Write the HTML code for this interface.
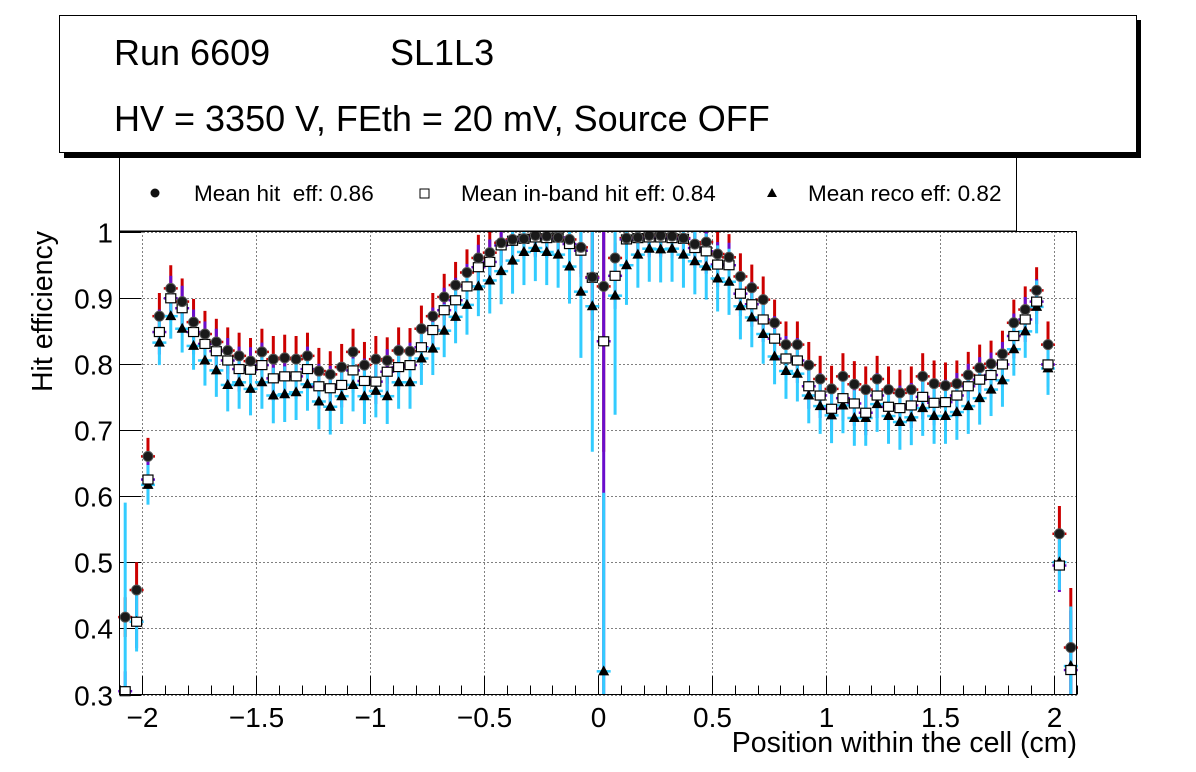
<!DOCTYPE html>
<html><head><meta charset="utf-8">
<style>
html,body{margin:0;padding:0;background:#fff;}
svg{display:block;font-family:"Liberation Sans",Arial,sans-serif;}
</style></head>
<body>
<svg id="chart" width="1196" height="772" viewBox="0 0 1196 772" xmlns="http://www.w3.org/2000/svg">
  <rect x="0" y="0" width="1196" height="772" fill="#fff"/>
  <g id="grid"></g>
  <g id="axes"></g>
  <g id="errs"></g>
  <g id="marks"></g>
  <rect x="119.5" y="231.5" width="957" height="463" fill="none" stroke="#000" stroke-width="1"/>
  <text x="1077" y="752" font-size="28.5" text-anchor="end">Position within the cell (cm)</text>
  <text transform="translate(52,231) rotate(-90)" font-size="28.5" text-anchor="end">Hit efficiency</text>
  <g>
    <rect x="119.5" y="150" width="897" height="81" fill="#fff" stroke="#000" stroke-width="1"/>
    <circle cx="155" cy="193" r="4.5" fill="#111"/>
    <text x="194" y="201" font-size="22.5" xml:space="preserve">Mean hit  eff: 0.86</text>
    <rect x="420" y="189" width="9" height="9" fill="#fff" stroke="#000" stroke-width="1"/>
    <text x="461" y="201" font-size="22.5">Mean in-band hit eff: 0.84</text>
    <polygon points="772,188 777,197 767,197" fill="#000"/>
    <text x="808" y="201" font-size="22.5">Mean reco eff: 0.82</text>
  </g>
  <g>
    <rect x="64" y="20" width="1077" height="138" fill="#000"/>
    <rect x="59.5" y="15.5" width="1077" height="137" fill="#fff" stroke="#000" stroke-width="1"/>
    <text x="114" y="65" font-size="36">Run 6609</text>
    <text x="390" y="65" font-size="36">SL1L3</text>
    <text x="114" y="131" font-size="36">HV = 3350 V, FEth = 20 mV, Source OFF</text>
  </g>
</svg>
<script>
const xStart = -2.075;
const binWidth = 0.05;
const hitEff = [0.417,0.458,0.660,0.872,0.914,0.894,0.863,0.845,0.833,0.820,0.812,0.804,0.818,0.807,0.809,0.807,0.812,0.789,0.784,0.795,0.818,0.798,0.807,0.805,0.820,0.819,0.853,0.872,0.901,0.919,0.938,0.960,0.968,0.983,0.988,0.989,0.994,0.993,0.991,0.988,0.976,0.931,0.917,0.960,0.990,0.991,0.994,0.994,0.993,0.990,0.981,0.984,0.966,0.961,0.932,0.915,0.897,0.862,0.829,0.829,0.798,0.777,0.762,0.781,0.769,0.761,0.777,0.761,0.756,0.761,0.781,0.770,0.767,0.770,0.783,0.794,0.800,0.815,0.862,0.882,0.911,0.829,0.543,0.371];
const inbandEff = [0.305,0.410,0.625,0.848,0.899,0.884,0.848,0.830,0.819,0.805,0.792,0.791,0.798,0.778,0.781,0.781,0.792,0.766,0.763,0.768,0.790,0.774,0.773,0.788,0.795,0.798,0.825,0.851,0.881,0.896,0.917,0.946,0.954,0.979,0.986,0.989,0.991,0.990,0.991,0.981,0.971,0.930,0.834,0.933,0.988,0.990,0.991,0.991,0.990,0.989,0.975,0.970,0.950,0.949,0.906,0.890,0.867,0.838,0.808,0.805,0.766,0.752,0.732,0.748,0.740,0.726,0.752,0.735,0.733,0.737,0.750,0.741,0.742,0.752,0.766,0.776,0.783,0.799,0.842,0.867,0.894,0.799,0.495,0.337];
const recoEff = [0.280,0.410,0.617,0.832,0.872,0.853,0.827,0.805,0.790,0.768,0.772,0.762,0.772,0.752,0.754,0.757,0.769,0.743,0.735,0.751,0.768,0.751,0.759,0.751,0.772,0.772,0.808,0.823,0.850,0.871,0.889,0.917,0.926,0.940,0.956,0.969,0.975,0.969,0.965,0.947,0.909,0.887,0.335,0.903,0.949,0.965,0.974,0.973,0.974,0.965,0.955,0.947,0.929,0.924,0.887,0.870,0.845,0.811,0.789,0.785,0.752,0.736,0.722,0.737,0.718,0.718,0.739,0.721,0.712,0.719,0.733,0.721,0.721,0.727,0.736,0.748,0.761,0.775,0.822,0.849,0.886,0.793,0.500,0.343];
const hitErr = [0.03,0.042,0.028,0.035,0.035,0.035,0.035,0.035,0.035,0.035,0.035,0.035,0.035,0.035,0.035,0.035,0.035,0.035,0.035,0.035,0.035,0.035,0.035,0.035,0.035,0.035,0.035,0.035,0.035,0.035,0.035,0.035,0.035,0.03,0.03,0.03,0.03,0.03,0.03,0.03,0.04,0.08,0.25,0.05,0.03,0.03,0.03,0.03,0.03,0.03,0.03,0.035,0.035,0.035,0.035,0.035,0.035,0.035,0.035,0.035,0.035,0.035,0.035,0.035,0.035,0.035,0.035,0.035,0.035,0.035,0.035,0.035,0.035,0.035,0.035,0.035,0.035,0.035,0.035,0.035,0.035,0.035,0.042,0.09];
const inbandErr = [0.03,0.04,0.03,0.034,0.034,0.034,0.034,0.034,0.034,0.034,0.034,0.034,0.034,0.034,0.034,0.034,0.034,0.034,0.034,0.034,0.034,0.034,0.034,0.034,0.034,0.034,0.034,0.034,0.034,0.034,0.034,0.034,0.034,0.03,0.03,0.03,0.03,0.03,0.03,0.03,0.04,0.08,0.6,0.05,0.03,0.03,0.03,0.03,0.03,0.03,0.03,0.034,0.034,0.034,0.034,0.034,0.034,0.034,0.034,0.034,0.034,0.034,0.034,0.034,0.034,0.034,0.034,0.034,0.034,0.034,0.034,0.034,0.034,0.034,0.034,0.034,0.034,0.034,0.034,0.034,0.034,0.034,0.04,0.09];
const recoErr = [0.31,0.045,0.03,0.034,0.034,0.036,0.036,0.038,0.04,0.04,0.04,0.04,0.04,0.042,0.042,0.042,0.04,0.042,0.042,0.042,0.04,0.042,0.04,0.042,0.04,0.04,0.04,0.04,0.04,0.04,0.045,0.045,0.05,0.05,0.05,0.05,0.05,0.05,0.05,0.056,0.1,0.22,0.27,0.18,0.06,0.05,0.05,0.05,0.05,0.05,0.05,0.05,0.05,0.05,0.05,0.045,0.045,0.042,0.042,0.042,0.042,0.042,0.042,0.042,0.042,0.042,0.042,0.042,0.042,0.042,0.042,0.042,0.042,0.042,0.042,0.04,0.04,0.04,0.04,0.04,0.04,0.04,0.042,0.09];
const xTicks = [-2,-1.5,-1,-0.5,0,0.5,1,1.5,2];
const xTickLabels = ["\u22122","\u22121.5","\u22121","\u22120.5","0","0.5","1","1.5","2"];
const yTicks = [0.3,0.4,0.5,0.6,0.7,0.8,0.9,1.0];
const yTickLabels = ["0.3","0.4","0.5","0.6","0.7","0.8","0.9","1"];

const NS = "http://www.w3.org/2000/svg";
const X0 = 119.5, X1 = 1076.5, Y0 = 694.5, Y1 = 231.5;
const xMin = -2.1, xMax = 2.1, yMin = 0.3, yMax = 1.0;
function xs(v){ return X0 + (v - xMin) / (xMax - xMin) * (X1 - X0); }
function ys(v){ return Y0 - (v - yMin) / (yMax - yMin) * (Y0 - Y1); }
function clampY(y){ return Math.max(Y1, Math.min(Y0, y)); }
function mk(tag, attrs, parent){ const e = document.createElementNS(NS, tag); for (const k in attrs) e.setAttribute(k, attrs[k]); parent.appendChild(e); return e; }

const grid = document.getElementById('grid');
const axes = document.getElementById('axes');
const errs = document.getElementById('errs');
const marks = document.getElementById('marks');

xTicks.forEach((t, i) => {
  const x = Math.round(xs(t)) + 0.5;
  const g = mk('line', {x1:x, x2:x, y1:Y1, y2:Y0, stroke:'#000', 'stroke-width':1, 'stroke-dasharray':'1,3'}, grid);
  
  
  const tk = mk('line', {x1:x, x2:x, y1:Y0, y2:Y0 - 18, stroke:'#000', 'stroke-width':1}, axes);
  
  
  const lb = mk('text', {x:x, y:727, 'font-size':28, 'text-anchor':'middle'}, axes);
  lb.textContent = xTickLabels[i];
  
  
});
for (let k = -21; k <= 21; k++) {
  const v = k / 10;
  const x = Math.round(xs(v)) + 0.5;
  const tk = mk('line', {x1:x, x2:x, y1:Y0, y2:Y0 - 9, stroke:'#000', 'stroke-width':1}, axes);
  
  
}
yTicks.forEach((t, i) => {
  const y = Math.round(ys(t)) + 0.5;
  const g = mk('line', {x1:X0, x2:X1, y1:y, y2:y, stroke:'#000', 'stroke-width':1, 'stroke-dasharray':'1,3'}, grid);
  
  
  const tk = mk('line', {x1:X0, x2:X0 + 22, y1:y, y2:y, stroke:'#000', 'stroke-width':1}, axes);
  
  
  const lb = mk('text', {x:113, y:y + 10, 'font-size':28, 'text-anchor':'end'}, axes);
  lb.textContent = yTickLabels[i];
  
  
});

function drawErr(vals, errArr, color, name){
  vals.forEach((v, i) => {
    const x = xs(xStart + i * binWidth);
    const yA = clampY(ys(v + errArr[i])), yB = clampY(ys(v - errArr[i]));
    if (yB - yA < 0.5) return;
    const l = mk('line', {x1:x, x2:x, y1:yA, y2:yB, stroke:color, 'stroke-width':3}, errs);
    
    
    const yc = ys(v);
    if (yc >= Y1 && yc <= Y0) {
      const h = mk('line', {x1:x - 7, x2:x + 7, y1:yc, y2:yc, stroke:color, 'stroke-width':2.5}, errs);
      
      
    }
  });
}
drawErr(hitEff, hitErr, '#cc0000', 'hit-error-bar');
drawErr(inbandEff, inbandErr, '#6a0dcc', 'inband-error-bar');
drawErr(recoEff, recoErr, '#33ccff', 'reco-error-bar');

recoEff.forEach((v, i) => {
  const x = xs(xStart + i * binWidth), y = ys(v);
  if (y < Y1 - 2 || y > Y0 + 2) return;
  const p = mk('polygon', {points:`${x},${y-6} ${x+5.5},${y+4} ${x-5.5},${y+4}`, fill:'#000'}, marks);
  
  
});
inbandEff.forEach((v, i) => {
  const x = xs(xStart + i * binWidth), y = ys(v);
  if (y < Y1 - 2 || y > Y0 + 2) return;
  const r = mk('rect', {x:x - 5, y:y - 4.5, width:10, height:9, fill:'#fff', stroke:'#000', 'stroke-width':1.2}, marks);
  
  
});
hitEff.forEach((v, i) => {
  const x = xs(xStart + i * binWidth), y = ys(v);
  if (y < Y1 - 2 || y > Y0 + 2) return;
  const c = mk('circle', {cx:x, cy:y, r:5, fill:'#1a1a1a', stroke:'#555', 'stroke-width':1}, marks);
  
  
});
</script>
</body></html>
